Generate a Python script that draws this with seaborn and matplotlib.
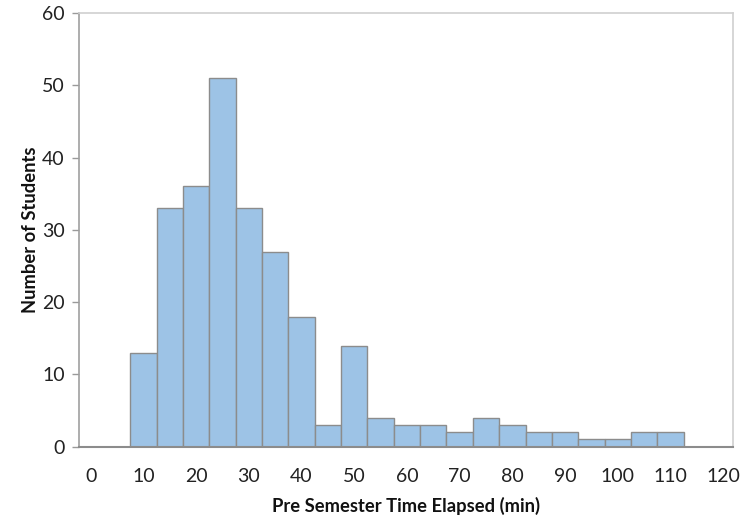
import pandas as pd
import matplotlib
matplotlib.use("Agg")
import matplotlib.pyplot as plt
import seaborn as sns

# Bin centres (minutes) and student counts per 5-minute bin
bin_centers = [10, 15, 20, 25, 30, 35, 40, 45, 50, 55, 60, 65, 70, 75, 80, 85, 90, 95, 100, 105, 110]
student_counts = [13, 33, 36, 51, 33, 27, 18, 3, 14, 4, 3, 3, 2, 4, 3, 2, 2, 1, 1, 2, 2]
bin_width = 5
x_ticks = list(range(0, 121, 10))
y_ticks = list(range(0, 61, 10))

df = pd.DataFrame({"minutes": bin_centers, "students": student_counts})

sns.set_theme(style="white")
plt.rcParams["font.family"] = ["Lato", "DejaVu Sans"]

fig = plt.figure(figsize=(7.51, 5.17), dpi=100)
ax = fig.add_axes([78.5 / 751, 1 - 446.7 / 517, (732.7 - 78.5) / 751, (446.7 - 13) / 517])

sns.histplot(data=df, x="minutes", weights="students", binwidth=bin_width,
             binrange=(bin_centers[0] - bin_width / 2, bin_centers[-1] + bin_width / 2),
             ax=ax, color="#9DC3E6", edgecolor="#8C8C8C", linewidth=1.0, alpha=1.0)

ax.set_xlim(-2.3, 121.8)
ax.set_ylim(0, 60)
ax.set_xticks(x_ticks)
ax.set_yticks(y_ticks)
ax.tick_params(axis="x", length=0, pad=15, labelsize=14, colors="#222222")
ax.tick_params(axis="y", length=5, width=1, color="#9A9A9A", direction="out",
               pad=5, labelsize=14, labelcolor="#222222", left=True)

for side in ["top", "right"]:
    ax.spines[side].set_color("#D0D0D0")
    ax.spines[side].set_linewidth(1.2)
ax.spines["left"].set_color("#A0A0A0")
ax.spines["bottom"].set_color("#8C8C8C")
ax.spines["left"].set_linewidth(1.2)
ax.spines["bottom"].set_linewidth(1.5)

ax.set_xlabel("Pre Semester Time Elapsed (min)", fontsize=13.2, fontweight="bold",
              color="#111111", labelpad=9)
ax.set_ylabel("Number of Students", fontsize=13.2, fontweight="bold",
              color="#111111", labelpad=2)

fig.savefig("out.png", dpi=100)
